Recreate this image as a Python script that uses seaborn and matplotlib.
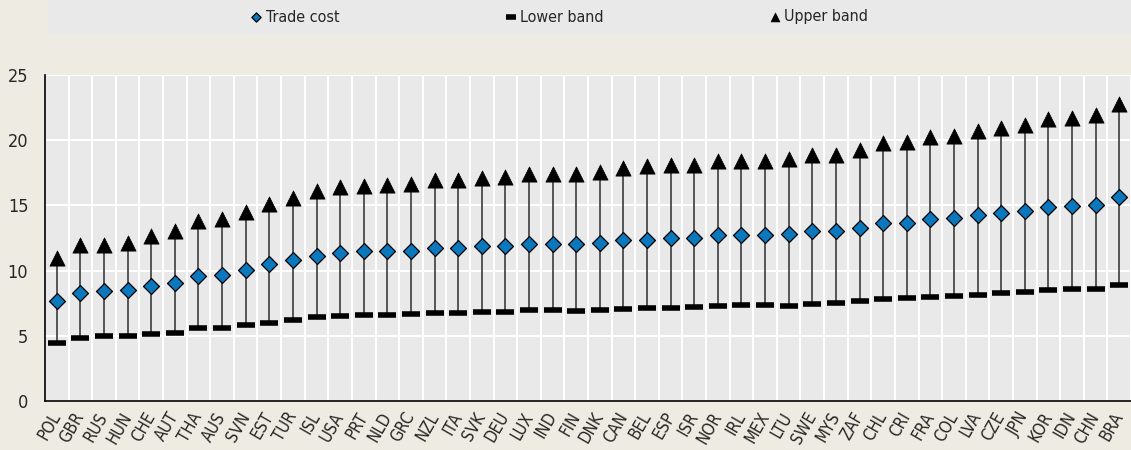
import numpy as np
import pandas as pd
import matplotlib
matplotlib.use("Agg")
import matplotlib.pyplot as plt
from matplotlib.patches import Rectangle
import seaborn as sns

countries = ["POL", "GBR", "RUS", "HUN", "CHE", "AUT", "THA", "AUS", "SVN", "EST",
             "TUR", "ISL", "USA", "PRT", "NLD", "GRC", "NZL", "ITA", "SVK", "DEU",
             "LUX", "IND", "FIN", "DNK", "CAN", "BEL", "ESP", "ISR", "NOR", "IRL",
             "MEX", "LTU", "SWE", "MYS", "ZAF", "CHL", "CRI", "FRA", "COL", "LVA",
             "CZE", "JPN", "KOR", "IDN", "CHN", "BRA"]

trade_cost = [7.67, 8.31, 8.47, 8.52, 8.82, 9.08, 9.59, 9.69, 10.08, 10.49,
              10.79, 11.15, 11.36, 11.48, 11.50, 11.53, 11.70, 11.70, 11.87, 11.87,
              12.05, 12.05, 12.05, 12.12, 12.33, 12.38, 12.48, 12.53, 12.71, 12.74,
              12.74, 12.81, 13.02, 13.02, 13.30, 13.63, 13.68, 13.94, 14.02, 14.25,
              14.45, 14.55, 14.86, 14.94, 15.06, 15.63]

lower_band = [4.45, 4.83, 4.96, 4.96, 5.10, 5.20, 5.60, 5.58, 5.86, 6.00,
              6.20, 6.45, 6.55, 6.60, 6.62, 6.65, 6.75, 6.75, 6.85, 6.85,
              6.98, 6.98, 6.93, 6.98, 7.06, 7.11, 7.16, 7.24, 7.29, 7.34,
              7.37, 7.31, 7.42, 7.52, 7.67, 7.80, 7.88, 8.00, 8.03, 8.16,
              8.29, 8.36, 8.52, 8.62, 8.57, 8.90]

upper_band = [11.00, 12.00, 12.00, 12.10, 12.66, 13.00, 13.80, 13.96, 14.50, 15.10,
              15.60, 16.10, 16.40, 16.50, 16.60, 16.62, 16.93, 16.93, 17.10, 17.16,
              17.37, 17.42, 17.44, 17.54, 17.90, 18.00, 18.10, 18.13, 18.41, 18.39,
              18.41, 18.54, 18.85, 18.87, 19.26, 19.80, 19.85, 20.26, 20.36, 20.74,
              20.95, 21.13, 21.60, 21.70, 21.97, 22.76]

y_ticks = [0, 5, 10, 15, 20, 25]

df = pd.DataFrame({"country": countries, "trade_cost": trade_cost,
                   "lower": lower_band, "upper": upper_band})

BG = "#EEECE2"
PANEL = "#E9E9E9"
BLUE = "#0B77BD"

sns.set_theme(style="white")
plt.rcParams["font.family"] = ["DejaVu Sans"]
plt.rcParams["font.stretch"] = "condensed"
plt.rcParams["font.size"] = 13

fig = plt.figure(figsize=(11.31, 4.5), dpi=100, facecolor=BG)
ax = fig.add_axes([45 / 1131, 1 - 401 / 450, 1 - 45 / 1131, (401 - 75) / 450])
ax.set_facecolor(PANEL)

# legend strip across the top
fig.patches.append(Rectangle((48 / 1131, 1 - 35 / 450), 1 - 48 / 1131, 35 / 450,
                             transform=fig.transFigure, facecolor=PANEL,
                             edgecolor="none", zorder=0))

pos = np.arange(len(countries))
ax.vlines(pos, df["lower"], df["upper"], color="#4a4a4a", linewidth=1.3, zorder=2)

sns.scatterplot(data=df, x="country", y="lower", marker="_", s=180, color="black",
                linewidth=4.0, ax=ax, zorder=3, label="Lower band")
sns.scatterplot(data=df, x="country", y="upper", marker="^", s=120, color="black",
                edgecolor="black", linewidth=0.5, ax=ax, zorder=4, label="Upper band")
sns.scatterplot(data=df, x="country", y="trade_cost", marker="D", s=66, color=BLUE,
                edgecolor="black", linewidth=0.9, ax=ax, zorder=5, label="Trade cost")

handles, labels = ax.get_legend_handles_labels()
if ax.get_legend() is not None:
    ax.get_legend().remove()
order = [labels.index(l) for l in ["Trade cost", "Lower band", "Upper band"]]
fig.legend([handles[i] for i in order], [labels[i] for i in order],
           loc="center", bbox_to_anchor=(0.495, 1 - 17 / 450), ncol=3,
           frameon=False, markerscale=0.58, handlelength=0.6, handletextpad=0.3,
           columnspacing=10.4, fontsize=11.5)

ax.set_xlim(-0.5, len(countries) - 0.5)
ax.set_ylim(0, 25)
ax.set_yticks(y_ticks)
ax.set_xticks(pos)
ax.set_xticklabels(countries, rotation=60, ha="right", va="center",
                   rotation_mode="anchor")
ax.set_xticks(pos + 0.5, minor=True)
ax.set_xlabel("")
ax.set_ylabel("")

ax.tick_params(axis="x", which="major", length=0, pad=9, labelsize=12)
ax.tick_params(axis="x", which="minor", direction="in", length=5, width=1, color="black")
ax.tick_params(axis="y", which="major", direction="in", length=5, width=1, color="black",
               pad=12, labelsize=13)

ax.grid(which="minor", axis="x", color="white", linewidth=1.5, zorder=0)
ax.grid(which="major", axis="y", color="white", linewidth=1.5, zorder=0)
ax.grid(which="major", axis="x", visible=False)
ax.set_axisbelow(True)

for side in ["top", "right"]:
    ax.spines[side].set_visible(False)
for side in ["left", "bottom"]:
    ax.spines[side].set_color("black")
    ax.spines[side].set_linewidth(1.2)

fig.savefig("out.png", dpi=100, facecolor=BG)
